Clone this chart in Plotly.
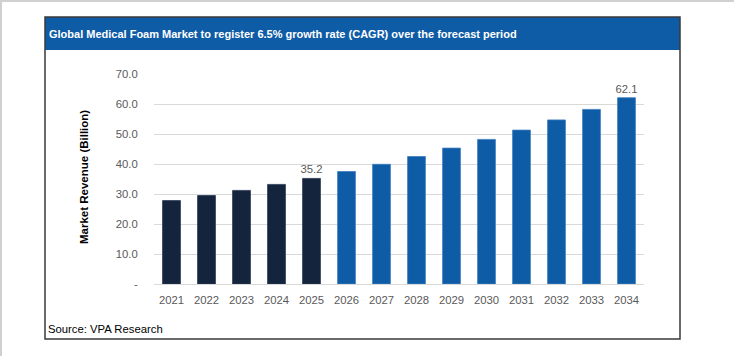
import plotly.graph_objects as go

years = ["2021", "2022", "2023", "2024", "2025", "2026", "2027", "2028", "2029", "2030", "2031", "2032", "2033", "2034"]
revenue = [27.8, 29.5, 31.2, 33.2, 35.2, 37.5, 39.9, 42.5, 45.3, 48.2, 51.3, 54.7, 58.2, 62.1]
historical_years = ["2021", "2022", "2023", "2024", "2025"]
labelled_years = ["2025", "2034"]
y_tick_vals = [0, 10, 20, 30, 40, 50, 60, 70]
y_tick_text = ["-", "10.0", "20.0", "30.0", "40.0", "50.0", "60.0", "70.0"]

title_text = "Global Medical Foam Market to register 6.5% growth rate (CAGR) over the forecast period"
source_text = "Source: VPA Research"
y_title = "Market Revenue (Billion)"

FONT = "Liberation Sans, Arial, sans-serif"
DARK = "#14243D"
BLUE = "#0F5CA6"
colors = [DARK if y in historical_years else BLUE for y in years]
edge = ["#2A3A55" if y in historical_years else "#3C7EC0" for y in years]
labels = [f"{v:.1f}" if y in labelled_years else "" for y, v in zip(years, revenue)]

W, H = 734, 356
L, R, T, B = 154, 644, 74, 284  # plot area in page pixels

def px(x):
    return (x - L) / (R - L)

def py(y):
    return (B - y) / (B - T)

fig = go.Figure()
fig.add_trace(go.Bar(
    x=years, y=revenue,
    marker=dict(color=colors, line=dict(color=edge, width=0.8)),
    text=labels, textposition="outside", cliponaxis=False, constraintext="none",
    textfont=dict(family=FONT, size=11.3, color="#595959"),
    hoverinfo="x+y",
))

shapes = [
    dict(type="line", xref="paper", yref="paper", x0=px(0), x1=px(W), y0=py(1), y1=py(1),
         line=dict(color="#D0D0D0", width=2)),
    dict(type="line", xref="paper", yref="paper", x0=px(1), x1=px(1), y0=py(0), y1=py(H),
         line=dict(color="#D0D0D0", width=2)),
    dict(type="rect", xref="paper", yref="paper", x0=px(45), x1=px(680), y0=py(17), y1=py(50),
         fillcolor="#0F5CA6", line=dict(width=0), layer="below"),
    dict(type="rect", xref="paper", yref="paper", x0=px(45), x1=px(680), y0=py(17), y1=py(339),
         line=dict(color="#3A3A3A", width=1.5), fillcolor="rgba(0,0,0,0)"),
]

annotations = [
    dict(text=f"<b>{title_text}</b>", xref="paper", yref="paper", x=px(47), y=py(34),
         xanchor="left", yanchor="middle", showarrow=False,
         font=dict(family=FONT, size=11, color="white")),
    dict(text=source_text, xref="paper", yref="paper", x=px(46), y=py(329),
         xanchor="left", yanchor="middle", showarrow=False,
         font=dict(family=FONT, size=11.3, color="#000000")),
    dict(text=f"<b>{y_title}</b>", xref="paper", yref="paper", x=px(84), y=py(177),
         xanchor="center", yanchor="middle", showarrow=False, textangle=-90,
         font=dict(family=FONT, size=11.5, color="#000000")),
]

fig.update_layout(
    width=W, height=H,
    margin=dict(l=L, r=W - R, t=T, b=H - B, pad=0),
    paper_bgcolor="white", plot_bgcolor="white",
    bargap=0.49, showlegend=False,
    shapes=shapes, annotations=annotations,
    font=dict(family=FONT, size=11, color="#595959"),
)
fig.update_xaxes(
    type="category", showgrid=False, showline=False,
    ticks="outside", ticklen=5, tickcolor="rgba(0,0,0,0)",
    tickfont=dict(family=FONT, size=11.3, color="#595959"),
)
fig.update_yaxes(
    range=[0, 70], tickvals=y_tick_vals, ticktext=y_tick_text,
    showgrid=True, gridcolor="#D9D9D9", gridwidth=1,
    zeroline=True, zerolinecolor="#D9D9D9", zerolinewidth=1,
    showline=False, ticks="outside", ticklen=13, tickcolor="rgba(0,0,0,0)",
    tickfont=dict(family=FONT, size=11.3, color="#595959"),
)

fig.write_html("out.html", config={"displayModeBar": False},
               post_script="document.body.style.margin='0';")
